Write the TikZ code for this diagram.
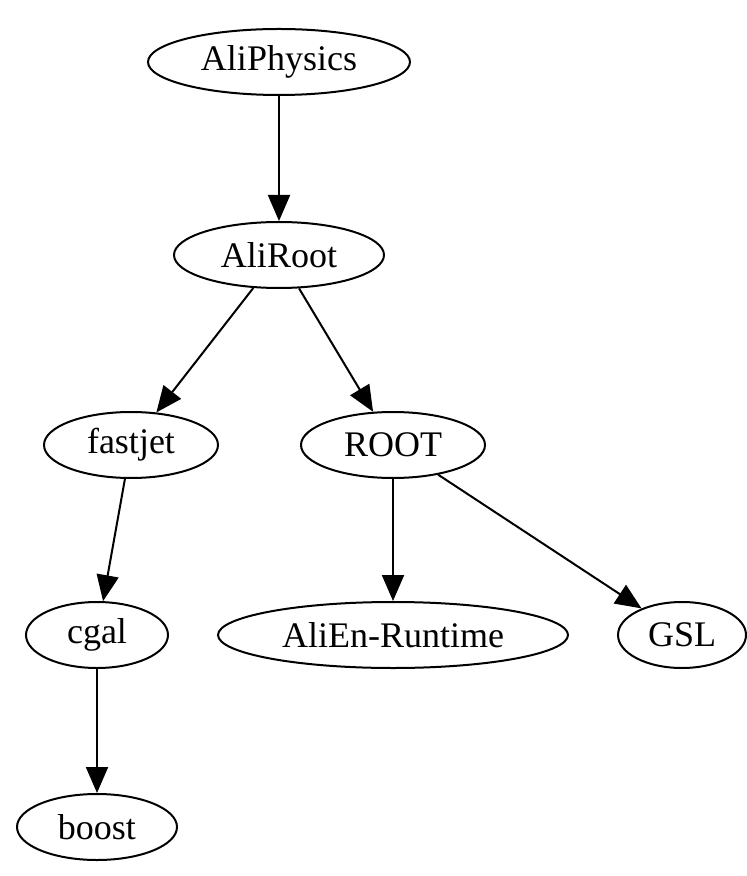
\documentclass[tikz,border=0pt]{standalone}
\usepackage{fontspec}
\setmainfont{Liberation Serif}
\usetikzlibrary{shapes.geometric,arrows.meta}
\begin{document}
\begin{tikzpicture}[x=0.5pt,y=-0.5pt,
    every node/.style={ellipse, draw, line width=1pt, inner sep=0pt, minimum height=33pt, font=\fontsize{18}{21}\selectfont},
    every path/.style={line width=1pt},
    dep/.style={-{Triangle[length=13pt,width=11pt]}}]
      \useasboundingbox (0,0) rectangle (747,876);
      \node[minimum width=131pt] (aliphysics) at (279,62) {AliPhysics};
      \node[minimum width=105pt] (aliroot) at (279,255) {AliRoot};
      \node[minimum width=87pt] (fastjet) at (131,445) {fastjet};
      \node[minimum width=92pt] (root) at (393,445) {ROOT};
      \node[minimum width=71pt] (cgal) at (97,635) {cgal};
      \node[minimum width=175pt] (alien) at (393,635) {AliEn-Runtime};
      \node[minimum width=64pt] (gsl) at (682,635) {GSL};
      \node[minimum width=80pt] (boost) at (97,827) {boost};

      \draw[dep] (aliphysics) -- (aliroot);
      \draw[dep] (aliroot) -- (fastjet);
      \draw[dep] (aliroot) -- (root);
      \draw[dep] (fastjet) -- (cgal);
      \draw[dep] (cgal) -- (boost);
      \draw[dep] (root) -- (alien);
      \draw[dep] (root) -- (gsl);
    \end{tikzpicture}
\end{document}
